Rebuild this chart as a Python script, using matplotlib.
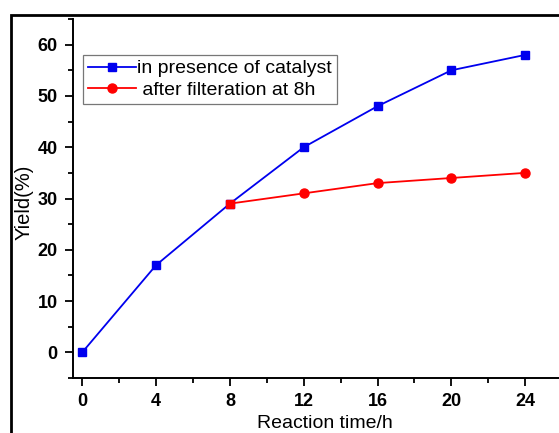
import numpy as np
from matplotlib import pyplot as plt
from matplotlib.patches import Rectangle
from matplotlib.ticker import MultipleLocator

# data
time_cat = [0, 4, 8, 12, 16, 20, 24]
yield_cat = [0, 17, 29, 40, 48, 55, 58]
time_filt = [8, 12, 16, 20, 24]
yield_filt = [29, 31, 33, 34, 35]
x_ticks = [0, 4, 8, 12, 16, 20, 24]
y_ticks = [0, 10, 20, 30, 40, 50, 60]

plt.rcParams['font.family'] = ['Liberation Sans', 'DejaVu Sans']

fig = plt.figure(figsize=(5.59, 4.33), dpi=100)
ax = fig.add_axes([73 / 559, 55 / 433, 486 / 559, 359 / 433])

ax.plot(time_cat, yield_cat, color='#0000ee', lw=1.3, marker='s', ms=6,
        label='in presence of catalyst')
ax.plot(time_filt, yield_filt, color='#ff0000', lw=1.3, marker='o', ms=6.5,
        markevery=slice(1, None), label=' after filteration at 8h')
# the filtration curve starts on the square point at 8 h
ax.plot(time_filt[:1], yield_filt[:1], ls='none', marker='s', ms=6, color='#ff0000')

ax.set_xlim(-0.5, 25.83)
ax.set_ylim(-5, 65)
ax.set_xticks(x_ticks)
ax.set_yticks(y_ticks)
ax.xaxis.set_minor_locator(MultipleLocator(2))
ax.yaxis.set_minor_locator(MultipleLocator(5))
ax.tick_params(which='major', direction='out', length=6, width=1.3, labelsize=13, pad=5)
ax.tick_params(which='minor', direction='out', length=3.5, width=1.3)
for lab in ax.get_xticklabels() + ax.get_yticklabels():
    lab.set_fontweight('bold')

for side in ['top', 'right']:
    ax.spines[side].set_visible(False)
for side in ['left', 'bottom']:
    ax.spines[side].set_linewidth(1.4)

ax.set_xlabel('Reaction time/h', fontsize=14)
ax.set_ylabel('Yield(%)', fontsize=14.5)
ax.xaxis.set_label_coords(0.5185, -0.103)
ax.yaxis.set_label_coords(-0.082, 0.49)

leg = ax.legend(loc='upper left', bbox_to_anchor=(0.02, 0.9), fontsize=14,
                frameon=True, fancybox=False, handlelength=2.5, handletextpad=0.05,
                borderpad=0.25, labelspacing=0.2, borderaxespad=0)
leg.get_frame().set_edgecolor('#555555')
leg.get_frame().set_linewidth(0.9)

# screenshot border around the figure
fig.patches.append(Rectangle((11 / 559, -0.1), 1.2, 1.1 - 15 / 433,
                             transform=fig.transFigure, fill=False, lw=2,
                             edgecolor='black', clip_on=False))

fig.savefig('out.png', dpi=100)
